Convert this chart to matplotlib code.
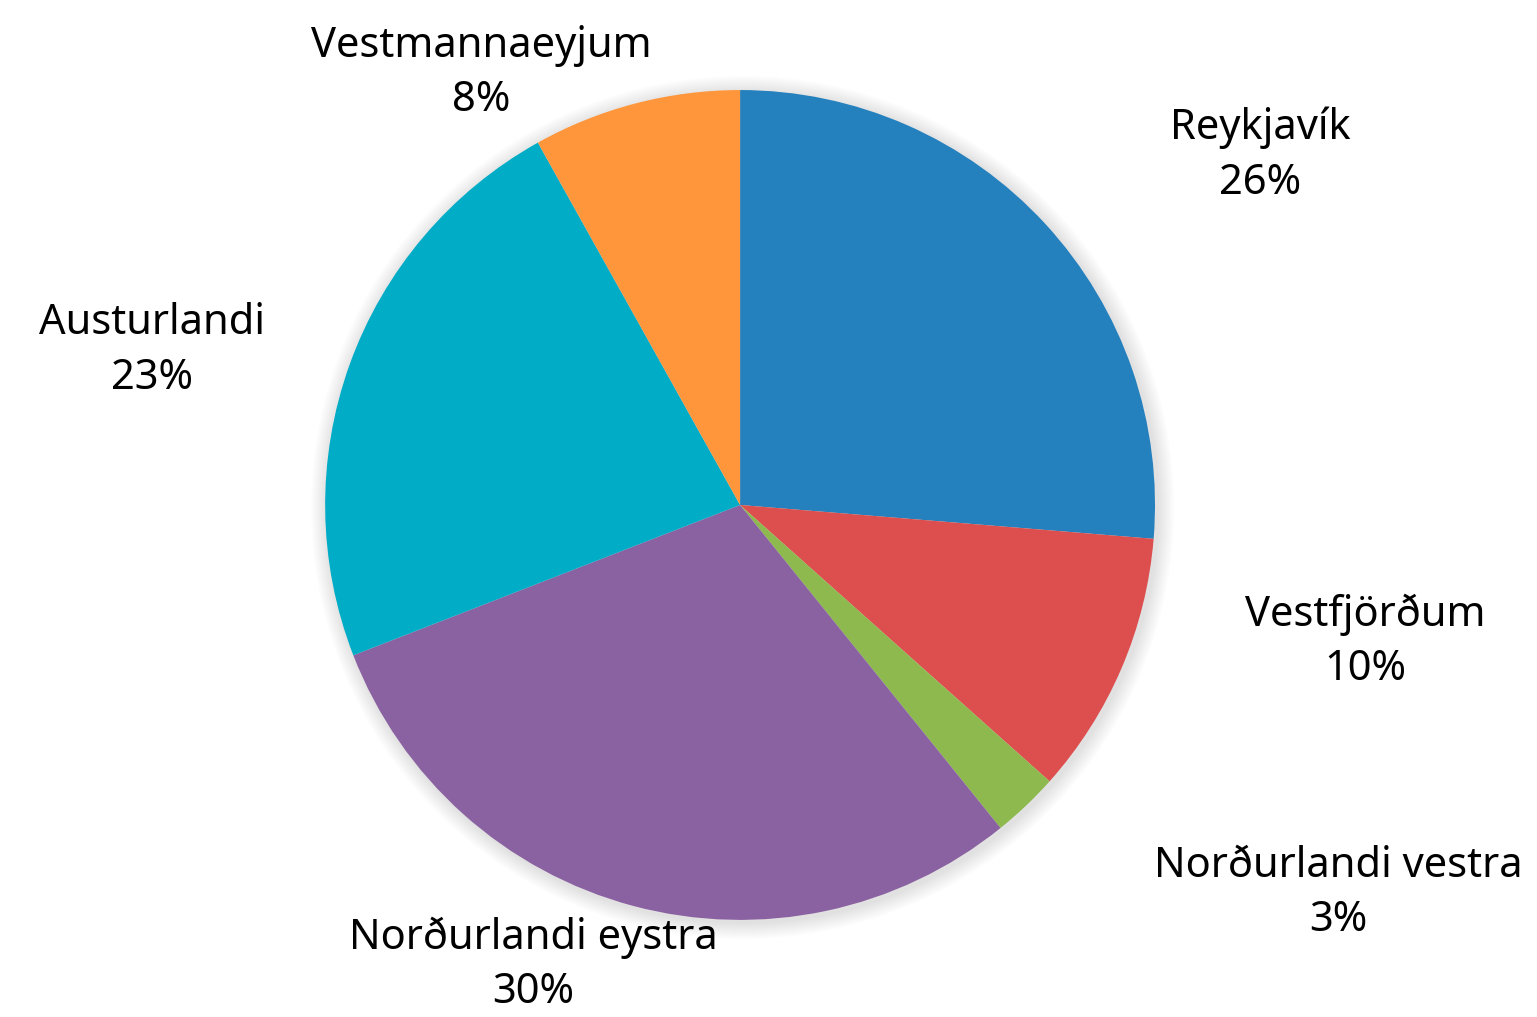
import matplotlib
matplotlib.use("Agg")
import matplotlib.pyplot as plt
from matplotlib.patches import Circle

# Share by region (percent), clockwise from 12 o'clock
regions = ["Reykjavík", "Vestfjörðum", "Norðurlandi vestra",
           "Norðurlandi eystra", "Austurlandi", "Vestmannaeyjum"]
shares = [26.3, 10.3, 2.6, 29.9, 22.8, 8.1]

colors = ["#2580BE", "#DC4F4E", "#8DB94E", "#8A62A2", "#00ACC6", "#FF963C"]

# where each label sits (data units, pie radius = 1)
label_pos = [(1.253, 0.843), (1.506, -0.330), (1.441, -0.935),
             (-0.499, -1.108), (-1.417, 0.373), (-0.624, 1.041)]

plt.rcParams['font.family'] = ['Noto Sans', 'DejaVu Sans']

fig = plt.figure(figsize=(15.37, 10.17), dpi=100)
ax = fig.add_axes([0, 0, 1, 1])

# soft shadow around the pie, slightly offset down-right
for i in range(10):
    ax.add_patch(Circle((0.006, -0.006), 1.0 + 0.004 * (i + 1), color="black",
                        alpha=0.012, lw=0, zorder=0))

wedges, _ = ax.pie(shares, colors=colors, startangle=90, counterclock=False,
                   radius=1.0, wedgeprops=dict(linewidth=0))
for w in wedges:
    w.set_zorder(2)

for name, val, (x, y) in zip(regions, shares, label_pos):
    ax.text(x, y, f"{name}\n{val:.0f}%", ha="center", va="center",
            fontsize=30, linespacing=1.4, color="black")

ax.set_xlim(-1.783, 1.920)
ax.set_ylim(-1.234, 1.217)
ax.set_aspect("equal")
ax.axis("off")

fig.savefig("out.png", dpi=100)
